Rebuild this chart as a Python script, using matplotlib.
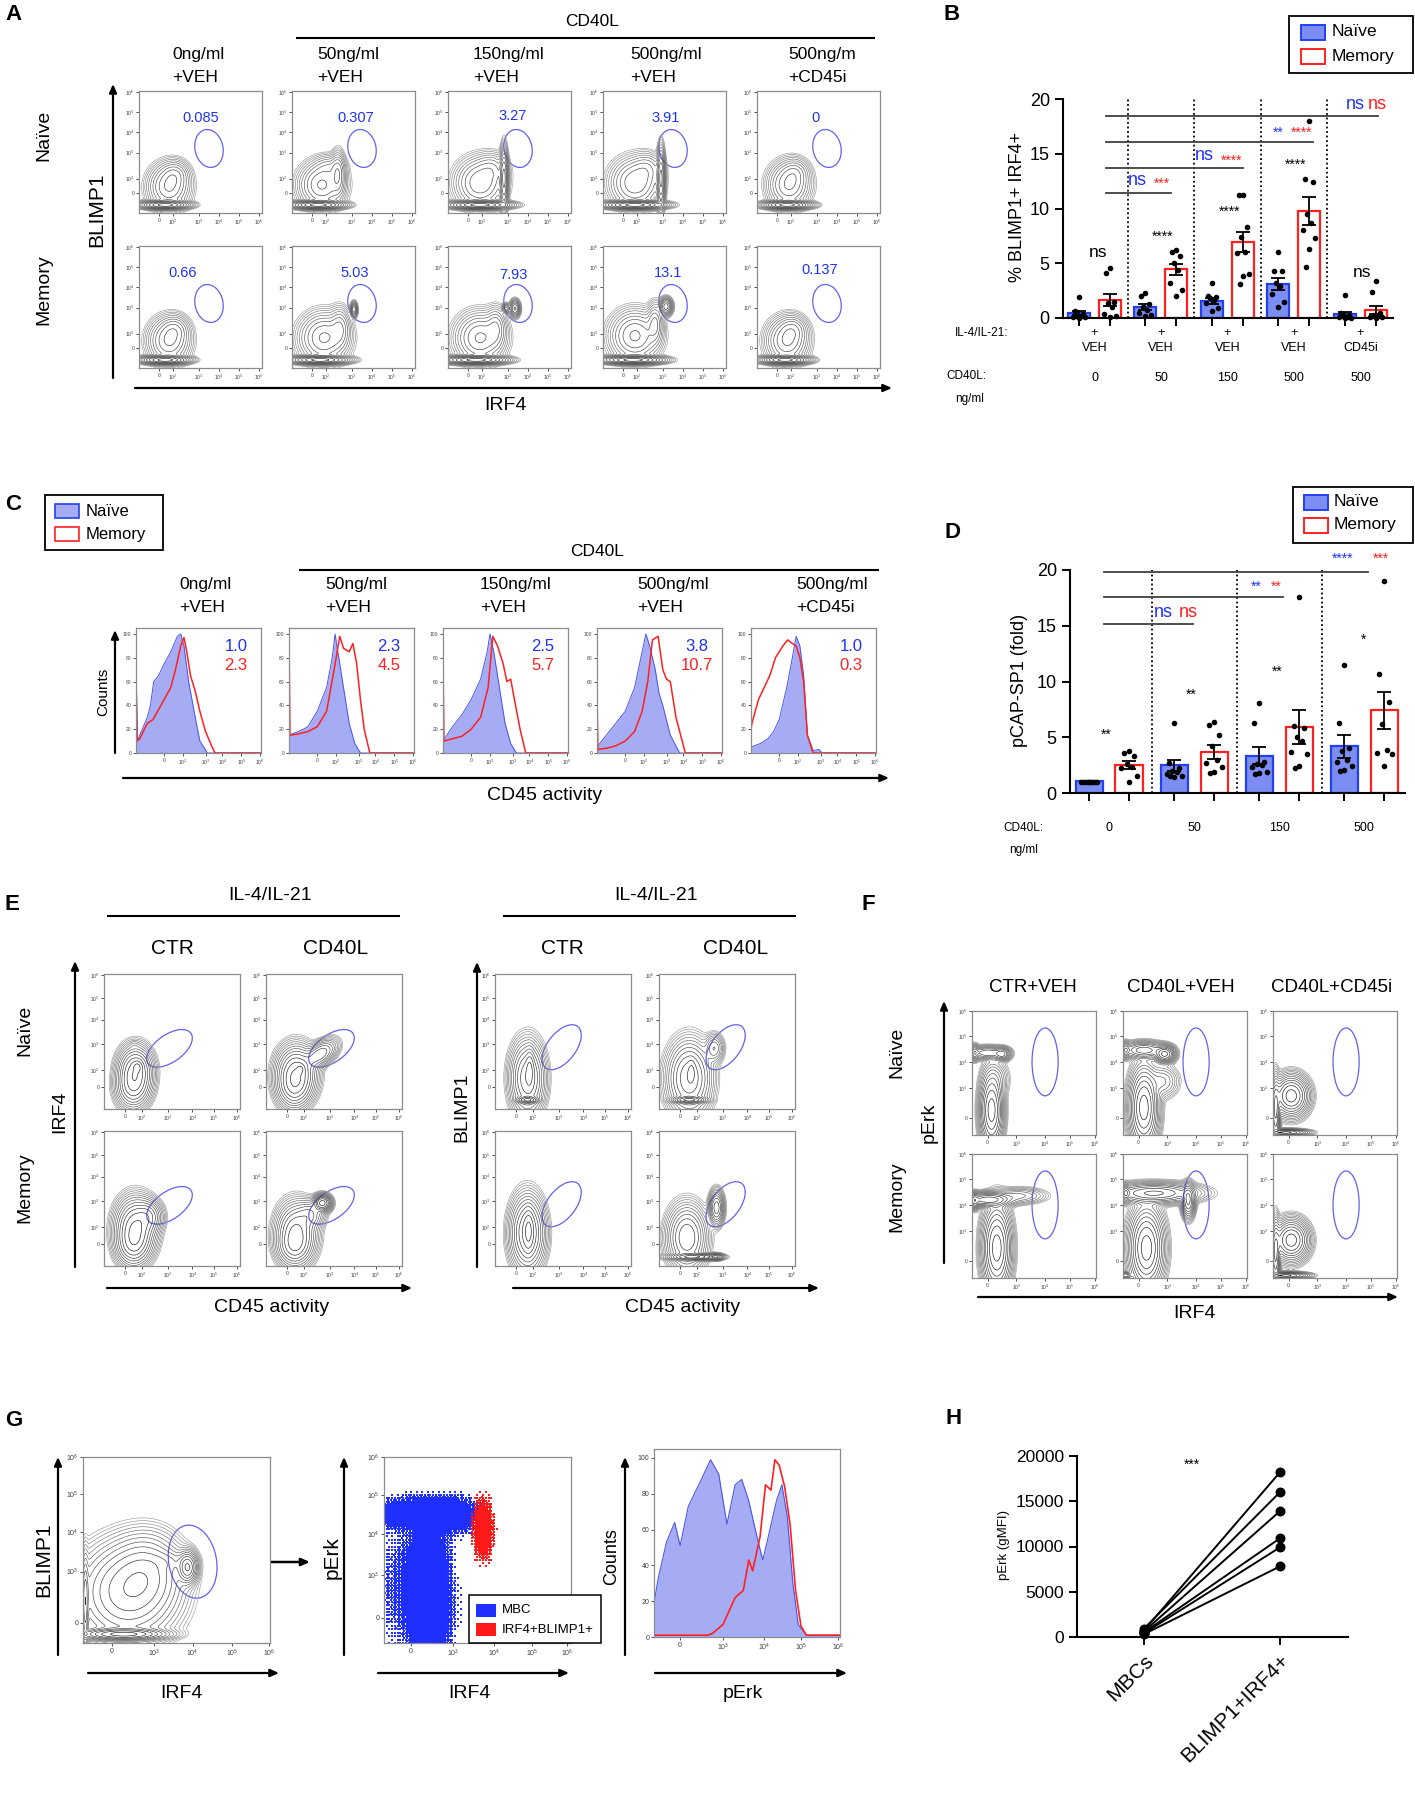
import numpy as np
import matplotlib
matplotlib.use('Agg')
import matplotlib.pyplot as plt
from matplotlib.patches import Ellipse, Rectangle

plt.rcParams['font.family'] = ['Liberation Sans', 'DejaVu Sans']
plt.rcParams['mathtext.fontset'] = 'custom'
plt.rcParams['mathtext.rm'] = 'Liberation Sans'

W, H = 1415, 1800
BLUE_TXT = '#1f33f5'
RED = '#ff2020'
NAIVE_FILL = '#7c8ef3'
NAIVE_EDGE = '#2340f0'
HIST_FILL = '#a6acf4'
HIST_EDGE = '#4a55e8'
GATE = '#6262ee'

# ---------------- DATA ----------------
# Panel A: gate frequencies (BLIMP1 vs IRF4)
A_conditions = ['0ng/ml\n+VEH', '50ng/ml\n+VEH', '150ng/ml\n+VEH', '500ng/ml\n+VEH', '500ng/m\n+CD45i']
A_naive_pct = ['0.085', '0.307', '3.27', '3.91', '0']
A_memory_pct = ['0.66', '5.03', '7.93', '13.1', '0.137']
# population blobs (centre x, centre y, spread x, spread y, weight[, corr]) in display decades
A_naive_pops = [
    [(0.3, -0.6, 0.55, 0.1, 3.0), (0.5, 0.3, 0.5, 0.55, 0.8), (0.8, 0.9, 0.35, 0.35, 0.35)],
    [(0.3, -0.6, 0.6, 0.1, 3.0), (0.5, 0.4, 0.55, 0.55, 0.8), (1.3, 0.9, 0.18, 0.55, 0.6), (0.9, 1.3, 0.4, 0.3, 0.2)],
    [(0.6, -0.6, 0.7, 0.1, 3.0), (0.6, 0.5, 0.6, 0.6, 0.7), (1.8, 0.7, 0.1, 0.75, 1.2), (1.2, 1.2, 0.4, 0.4, 0.25)],
    [(0.6, -0.6, 0.7, 0.1, 3.0), (0.6, 0.5, 0.6, 0.6, 0.7), (1.9, 0.7, 0.1, 0.75, 1.2), (1.2, 1.2, 0.4, 0.4, 0.25)],
    [(0.5, -0.6, 0.55, 0.1, 3.0), (0.6, 0.4, 0.5, 0.55, 0.8), (0.9, 1.0, 0.35, 0.35, 0.3)],
]
A_memory_pops = [
    [(0.3, -0.6, 0.55, 0.1, 3.0), (0.5, 0.35, 0.5, 0.55, 0.8), (0.8, 0.9, 0.35, 0.35, 0.35)],
    [(0.4, -0.6, 0.65, 0.1, 3.0), (0.6, 0.5, 0.6, 0.6, 0.8), (1.4, 1.0, 0.25, 0.5, 0.4), (2.1, 1.9, 0.08, 0.18, 1.0)],
    [(0.4, -0.6, 0.7, 0.1, 3.0), (0.6, 0.5, 0.6, 0.6, 0.8), (1.4, 1.0, 0.25, 0.5, 0.4), (1.9, 1.95, 0.1, 0.12, 0.6), (2.35, 1.95, 0.12, 0.2, 1.2)],
    [(0.5, -0.6, 0.7, 0.1, 3.0), (0.6, 0.6, 0.6, 0.6, 0.8), (1.6, 1.2, 0.2, 0.5, 0.5), (2.15, 2.05, 0.15, 0.2, 1.4)],
    [(0.4, -0.6, 0.55, 0.1, 3.0), (0.5, 0.35, 0.5, 0.55, 0.8), (0.8, 0.9, 0.35, 0.35, 0.35)],
]
A_naive_lblpos = [(2.1, 3.7), (2.2, 3.7), (2.25, 3.8), (2.15, 3.7), (1.9, 3.7)]
A_memory_lblpos = [(1.2, 3.7), (2.15, 3.7), (2.25, 3.6), (2.25, 3.7), (2.15, 3.85)]

# Panel B
B_conc = ['0', '50', '150', '500', '500']
B_treat = ['VEH', 'VEH', 'VEH', 'VEH', 'CD45i']
B_naive_mean = [0.45, 1.0, 1.55, 3.1, 0.37]
B_naive_sem = [0.2, 0.3, 0.25, 0.55, 0.2]
B_memory_mean = [1.64, 4.47, 6.94, 9.77, 0.73]
B_memory_sem = [0.55, 0.5, 0.9, 1.3, 0.4]
B_naive_pts = [[1.9, 0.6, 0.4, 0.3, 0.2, 0.1, 0.1, 0.0],
               [2.3, 2.0, 1.3, 1.0, 0.7, 0.5, 0.3, 0.2],
               [3.2, 2.0, 1.9, 1.8, 1.6, 1.4, 0.9, 0.6],
               [6.0, 4.3, 4.3, 3.2, 2.9, 2.2, 1.5, 1.0],
               [2.1, 0.5, 0.3, 0.2, 0.1, 0.1, 0.0, 0.0]]
B_memory_pts = [[4.6, 4.1, 1.5, 1.4, 1.0, 0.4, 0.2, 0.1],
                [6.2, 6.0, 5.7, 5.0, 4.4, 3.2, 2.6, 2.0],
                [11.2, 11.2, 8.3, 7.4, 6.0, 5.9, 4.0, 3.8, 3.1],
                [18.0, 12.7, 12.4, 9.5, 8.7, 8.0, 7.3, 6.3, 4.7],
                [3.4, 2.4, 0.5, 0.3, 0.2, 0.1, 0.1, 0.0]]
B_pair_sig = ['ns', '****', '****', '****', 'ns']
B_pair_y = [6.0, 7.4, 9.7, 14.0, 4.2]

# Panel C: CD45 activity histograms (x in display decades, y = % of max)
C_naive_lbl = ['1.0', '2.3', '2.5', '3.8', '1.0']
C_memory_lbl = ['2.3', '4.5', '5.7', '10.7', '0.3']
C_naive_x = [
    [-1.5, -1.5, -1.42, -1.3, -0.9, -0.73, -0.56, -0.3, 0.0, 0.35, 0.7, 0.88, 1.05, 1.3, 1.65, 1.9, 2.3, 5.15],
    [-1.5, -1.0, -0.5, 0.0, 0.5, 0.8, 0.95, 1.1, 1.4, 1.7, 2.0, 2.3, 5.15],
    [-1.5, -1.0, -0.5, 0.0, 0.5, 0.85, 1.0, 1.2, 1.5, 1.8, 2.1, 2.4, 5.15],
    [-1.5, -1.0, -0.5, 0.0, 0.5, 0.9, 1.1, 1.3, 1.6, 1.8, 2.0, 2.4, 2.9, 5.15],
    [-1.5, -1.0, -0.6, -0.3, 0.0, 0.4, 0.7, 0.9, 1.1, 1.3, 1.5, 1.8, 2.1, 2.3, 5.15],
]
C_naive_y = [
    [0, 72, 10, 15, 30, 40, 60, 65, 75, 85, 98, 100, 90, 60, 30, 10, 0, 0],
    [15, 18, 22, 35, 55, 80, 100, 85, 55, 25, 8, 0, 0],
    [10, 22, 32, 45, 62, 85, 100, 85, 55, 25, 8, 0, 0],
    [5, 15, 25, 35, 55, 85, 100, 90, 70, 50, 40, 15, 0, 0],
    [5, 8, 12, 18, 28, 55, 80, 98, 90, 65, 15, 2, 3, 0, 0],
]
C_memory_x = [
    [-1.5, -1.5, -1.45, -1.3, -0.9, -0.6, -0.35, 0.0, 0.35, 0.6, 0.88, 1.05, 1.2, 1.4, 1.65, 1.9, 2.2, 2.55, 2.7, 5.15],
    [-1.5, -1.5, -1.45, -1.0, -0.5, 0.0, 0.5, 0.9, 1.2, 1.4, 1.7, 1.9, 2.1, 2.3, 2.5, 2.8, 5.15],
    [-1.5, -1.5, -1.45, -1.0, -0.5, 0.0, 0.5, 0.9, 1.15, 1.4, 1.7, 1.9, 2.1, 2.3, 2.6, 2.9, 5.15],
    [-1.5, -1.5, -1.45, -1.0, -0.5, 0.0, 0.5, 0.9, 1.2, 1.45, 1.75, 2.0, 2.2, 2.4, 2.7, 3.2, 5.15],
    [-1.5, -1.5, -1.45, -1.1, -0.8, -0.5, -0.2, 0.2, 0.45, 0.7, 0.9, 1.1, 1.3, 1.5, 1.8, 5.15],
]
C_memory_y = [
    [0, 70, 10, 12, 25, 28, 35, 45, 55, 70, 90, 97, 85, 65, 52, 35, 18, 5, 0, 0],
    [0, 100, 15, 16, 18, 22, 35, 70, 98, 88, 85, 92, 75, 45, 20, 0, 0],
    [0, 80, 10, 12, 14, 20, 30, 55, 98, 90, 75, 60, 62, 45, 20, 0, 0],
    [0, 48, 3, 4, 6, 10, 18, 35, 60, 95, 98, 70, 62, 60, 30, 0, 0],
    [0, 20, 25, 45, 55, 65, 80, 90, 95, 92, 90, 80, 60, 15, 0, 0],
]

# Panel D
D_conc = ['0', '50', '150', '500']
D_naive_mean = [1.04, 2.48, 3.34, 4.18]
D_naive_sem = [0.03, 0.5, 0.78, 1.0]
D_memory_mean = [2.54, 3.7, 5.88, 7.4]
D_memory_sem = [0.35, 0.63, 1.52, 1.64]
D_naive_pts = [[1.0, 1.0, 1.0, 1.0, 1.0, 1.0, 1.0, 1.0],
               [6.3, 2.7, 2.2, 2.0, 1.9, 1.7, 1.5, 1.4, 1.5],
               [8.1, 6.3, 2.8, 2.6, 2.5, 2.3, 1.9, 1.8, 1.7],
               [11.5, 6.3, 4.0, 3.8, 3.0, 2.8, 2.4, 2.1, 2.0]]
D_memory_pts = [[3.8, 3.6, 3.3, 2.6, 2.3, 2.2, 1.5, 1.0],
                [6.4, 6.1, 5.2, 4.2, 3.0, 2.7, 2.3, 1.9, 1.8],
                [17.6, 6.0, 5.8, 5.0, 4.7, 3.7, 3.5, 2.4, 2.2],
                [19.0, 10.7, 8.2, 6.2, 3.9, 3.6, 3.5, 2.4]]
D_pair_sig = ['**', '**', '**', '*']
D_pair_y = [5.2, 8.8, 10.9, 13.7]

# Panel E
E_left_pct = ['0.978', '17.9', '5.14', '30.4']
E_right_pct = ['0.153', '8.84', '1.58', '17']
E_left_pops = [
    [(0.45, 0.7, 0.35, 0.5, 1.0), (0.35, 0.0, 0.35, 0.45, 0.6), (0.55, 0.9, 0.12, 0.15, 0.5), (0.4, 1.85, 0.12, 0.1, 0.03)],
    [(0.4, 0.6, 0.4, 0.55, 1.0), (0.3, 0.0, 0.35, 0.45, 0.5), (1.45, 1.45, 0.35, 0.3, 0.45, 0.5), (0.6, 0.8, 0.1, 0.12, 0.4)],
    [(0.45, 0.7, 0.4, 0.6, 1.0), (0.35, 0.0, 0.35, 0.45, 0.5), (1.0, 1.2, 0.3, 0.35, 0.4)],
    [(0.4, 0.5, 0.4, 0.6, 0.8), (0.3, -0.1, 0.35, 0.4, 0.4), (1.55, 1.8, 0.18, 0.17, 1.3), (1.0, 1.3, 0.3, 0.3, 0.3)],
]
E_right_pops = [
    [(0.5, 0.4, 0.35, 0.75, 1.0), (0.5, -0.55, 0.22, 0.07, 1.5), (0.6, 0.8, 0.1, 0.45, 0.5)],
    [(0.4, 0.4, 0.45, 0.75, 1.0), (0.4, -0.55, 0.35, 0.07, 1.5), (1.5, 1.7, 0.2, 0.3, 0.3), (0.5, 0.7, 0.1, 0.3, 0.4)],
    [(0.5, 0.5, 0.35, 0.75, 1.0), (0.55, 0.6, 0.12, 0.5, 0.6)],
    [(0.3, 0.3, 0.4, 0.65, 1.0), (0.6, -0.55, 0.5, 0.07, 1.6), (1.6, 1.6, 0.15, 0.35, 0.9), (1.6, -0.55, 0.15, 0.07, 0.6)],
]

# Panel F
F_conditions = ['CTR+VEH', 'CD40L+VEH', 'CD40L+CD45i']
F_naive_pct = ['0.208', '0.438', '0.0254']
F_memory_pct = ['1.14', '4.19', '0.0173']
F_naive_pops = [
    [(0.0, 2.5, 0.35, 0.12, 0.5), (0.55, 2.45, 0.15, 0.12, 0.6), (0.15, 0.3, 0.2, 0.65, 1.5), (0.3, 1.5, 0.25, 0.35, 0.12), (-0.5, 2.5, 0.08, 0.15, 0.4)],
    [(0.2, 2.6, 0.4, 0.15, 0.6), (1.0, 2.45, 0.18, 0.15, 1.2), (0.2, 0.4, 0.25, 0.7, 1.3), (0.9, 1.4, 0.3, 0.3, 0.15), (-0.5, 2.6, 0.08, 0.15, 0.4)],
    [(0.1, 0.85, 0.3, 0.35, 1.0), (-0.5, 0.3, 0.08, 0.6, 0.6), (-0.1, -0.55, 0.4, 0.06, 0.6)],
]
F_memory_pops = [
    [(0.0, 2.35, 0.45, 0.13, 0.9), (1.2, 2.5, 0.5, 0.15, 0.15), (0.35, 0.5, 0.25, 0.75, 1.3), (-0.5, 2.3, 0.08, 0.15, 0.6)],
    [(0.6, 2.6, 0.8, 0.18, 0.7), (1.9, 2.3, 0.12, 0.3, 0.7), (0.3, 0.5, 0.3, 0.7, 1.2), (-0.5, 2.6, 0.08, 0.15, 0.5), (-0.5, -0.55, 0.1, 0.06, 0.4)],
    [(0.1, 0.8, 0.3, 0.35, 1.0), (-0.5, 0.3, 0.08, 0.6, 0.6), (-0.1, -0.55, 0.4, 0.06, 0.6)],
]

# Panel G
G_gate_pct = '5.2'
G1_pops = [(0.3, -0.3, 0.5, 0.07, 2.0), (0.4, 0.8, 0.6, 0.6, 1.0), (0.9, 1.3, 0.45, 0.5, 0.6),
           (1.95, 1.45, 0.12, 0.2, 1.2), (-0.68, 0.5, 0.04, 0.6, 0.6), (1.5, 1.6, 0.3, 0.15, 0.15)]
G2_mbc_pops = [(0.2, 2.75, 0.6, 0.22, 1.0), (1.1, 2.7, 0.35, 0.25, 0.7), (0.45, 0.3, 0.3, 0.8, 1.3),
               (0.4, 1.6, 0.3, 0.45, 0.6), (-0.4, 0.8, 0.3, 0.9, 0.15)]
G2_pos_pops = [(1.85, 2.35, 0.14, 0.42, 1.0)]
G3_mbc_x = [-0.67, -0.56, -0.35, -0.14, 0.0, 0.21, 0.5, 0.78, 0.99, 1.2, 1.41, 1.58, 1.76, 1.97,
            2.12, 2.26, 2.47, 2.61, 2.75, 2.89, 3.03, 3.24, 4.1]
G3_mbc_y = [19, 33, 53, 64, 51, 73, 86, 99, 91, 63, 85, 88, 76, 56, 43, 56, 76, 85, 67, 30, 7, 1, 1]
G3_pos_x = [-0.67, 0.7, 0.83, 1.1, 1.41, 1.62, 1.76, 1.86, 2.05, 2.19, 2.33, 2.43, 2.54, 2.68,
            2.82, 2.96, 3.1, 3.24, 4.1]
G3_pos_y = [1, 1, 2, 7, 22, 26, 43, 37, 56, 85, 82, 99, 96, 84, 63, 26, 6, 1, 1]

# Panel H
H_groups = ['MBCs', 'BLIMP1+IRF4+']
H_mbc = [700, 900, 600, 500, 400, 300]
H_pos = [18200, 16000, 13900, 10900, 9900, 7800]

# ---------------- FIGURE ----------------
fig = plt.figure(figsize=(W / 100, H / 100), dpi=100)
ov = fig.add_axes([0, 0, 1, 1])
ov.set_xlim(0, W)
ov.set_ylim(H, 0)
ov.axis('off')


def ax_px(x0, y0, x1, y1):
    return fig.add_axes([x0 / W, 1 - y1 / H, (x1 - x0) / W, (y1 - y0) / H])


def txt(x, y, s, size=12, **kw):
    kw.setdefault('ha', 'center')
    kw.setdefault('va', 'center')
    ov.text(x, y, s, fontsize=size, **kw)


def arrow(x0, y0, x1, y1, lw=1.6):
    ov.annotate('', xy=(x1, y1), xytext=(x0, y0),
                arrowprops=dict(arrowstyle='-|>,head_length=0.5,head_width=0.22', lw=lw,
                                color='k', shrinkA=0, shrinkB=0))


def line(x0, y0, x1, y1, lw=1.6):
    ov.plot([x0, x1], [y0, y1], color='k', lw=lw, solid_capstyle='butt')


def density(pops, xl, yl, n=240):
    gx = np.linspace(xl[0], xl[1], n)
    gy = np.linspace(yl[0], yl[1], n)
    X, Y = np.meshgrid(gx, gy)
    Z = np.zeros_like(X)
    for p in pops:
        cx, cy, sx, sy, w = p[:5]
        rho = p[5] if len(p) > 5 else 0.0
        dx = (X - cx) / sx
        dy = (Y - cy) / sy
        Z += w * np.exp(-(dx * dx - 2 * rho * dx * dy + dy * dy) / (2 * (1 - rho * rho)))
    return X, Y, Z


def style_flow(ax, xl, yl, xt, yt, xlab, ylab, fs=3.6):
    ax.set_xlim(xl)
    ax.set_ylim(yl)
    ax.set_xticks(xt)
    ax.set_xticklabels(xlab, fontsize=fs)
    ax.set_yticks(yt)
    ax.set_yticklabels(ylab, fontsize=fs)
    ax.tick_params(length=2, width=0.6, pad=1.5, color='0.2', labelcolor='0.25')
    for s in ax.spines.values():
        s.set_color('0.55')
        s.set_linewidth(0.9)


def flow_plot(rect, pops, xl, yl, xt, yt, xlab, ylab, gate=None, fs=3.6):
    ax = ax_px(*rect)
    X, Y, Z = density(pops, xl, yl)
    nl = 13
    lv = Z.max() * np.geomspace(0.006, 0.8, nl)
    cols = [str(c) for c in np.linspace(0.62, 0.08, nl)]
    ax.contour(X, Y, Z, levels=lv, colors=cols, linewidths=0.45)
    style_flow(ax, xl, yl, xt, yt, xlab, ylab, fs)
    if gate is not None:
        gx, gy, gw, gh, ga = gate
        ax.add_patch(Ellipse((gx, gy), gw, gh, angle=ga, fill=False, ec=GATE, lw=0.9))
    return ax


BAYER = np.array([[0, 8, 2, 10], [12, 4, 14, 6], [3, 11, 1, 9], [15, 7, 13, 5]]) / 16.0


def dot_cloud(ax, pops, xl, yl, lo, hi, color, nx=95, ny=95, size=1.6):
    gx = np.linspace(xl[0], xl[1], nx)
    gy = np.linspace(yl[0], yl[1], ny)
    X, Y = np.meshgrid(gx, gy)
    _, _, Z = density(pops, xl, yl, n=2)
    Z = np.zeros_like(X)
    for p in pops:
        cx, cy, sx, sy, w = p[:5]
        Z += w * np.exp(-(((X - cx) / sx) ** 2 + ((Y - cy) / sy) ** 2) / 2)
    Zn = Z / Z.max()
    ii, jj = np.indices(X.shape)
    thr = lo + (hi - lo) * BAYER[ii % 4, jj % 4]
    m = Zn > thr
    ax.scatter(X[m], Y[m], s=size, marker='s', c=color, linewidths=0)


LOG6 = ['0', '$10^2$', '$10^3$', '$10^4$', '$10^5$', '$10^6$']
LOG5 = ['0', '$10^3$', '$10^4$', '$10^5$', '$10^6$']

# ---- panel letters ----
for L, x, y in [('A', 14, 15), ('B', 952, 14), ('C', 13, 505), ('D', 952, 533),
                ('E', 12, 905), ('F', 868, 905), ('G', 14, 1420), ('H', 954, 1419)]:
    txt(x, y, L, 16, fontweight='bold')

# ================= Panel A =================
A_x0 = [139, 292, 448, 603, 757]
A_title_x = [172, 317, 473, 630, 788]
A_tick = [0, 0.7, 2.0, 3.0, 4.0, 5.0]
A_xl, A_yl = (-1.0, 5.15), (-1.0, 5.05)
A_gate = (2.5, 2.2, 1.4, 1.9, 12)
txt(592, 22, 'CD40L', 12.5)
line(296, 38, 875, 38, 1.5)
for i in range(5):
    t1, t2 = A_conditions[i].split('\n')
    txt(A_title_x[i], 54, t1, 12.5, ha='left')
    txt(A_title_x[i], 77, t2, 12.5, ha='left')
    for row, (y0, pops, pct, lp) in enumerate([(91, A_naive_pops[i], A_naive_pct[i], A_naive_lblpos[i]),
                                               (246, A_memory_pops[i], A_memory_pct[i], A_memory_lblpos[i])]):
        ax = flow_plot((A_x0[i], y0, A_x0[i] + 123, y0 + 122), pops, A_xl, A_yl,
                       A_tick, A_tick, LOG6, LOG6, gate=A_gate)
        ax.text(lp[0], lp[1], pct, color=BLUE_TXT, fontsize=10.5, ha='center', va='center')
arrow(113, 378, 113, 84)
arrow(135, 388, 892, 388)
txt(97, 210, 'BLIMP1', 15, rotation=90)
txt(44, 135, 'Naïve', 14, rotation=90)
txt(44, 290, 'Memory', 14, rotation=90)
txt(505, 406, 'IRF4', 14)

# ================= Panel B =================
axB = ax_px(1063, 99, 1393, 318)
g = np.arange(5)
off, bw = 0.233, 0.33
axB.bar(g - off, B_naive_mean, width=bw, color=NAIVE_FILL, edgecolor=NAIVE_EDGE, lw=1.6, zorder=2)
axB.bar(g + off, B_memory_mean, width=bw, color='white', edgecolor=RED, lw=1.6, zorder=2)
axB.errorbar(g - off, B_naive_mean, yerr=B_naive_sem, fmt='none', ecolor='k', capsize=5, lw=1.3, capthick=1.3, zorder=4)
axB.errorbar(g + off, B_memory_mean, yerr=B_memory_sem, fmt='none', ecolor='k', capsize=5, lw=1.3, capthick=1.3, zorder=4)
jit = [0, -0.06, 0.06, -0.03, 0.03, -0.09, 0.09, 0.0, -0.05]
for i in range(5):
    for pts, sgn in [(B_naive_pts[i], -1), (B_memory_pts[i], 1)]:
        xs = [i + sgn * off + jit[k % len(jit)] for k in range(len(pts))]
        axB.scatter(xs, pts, s=9, c='k', zorder=5, clip_on=False)
axB.vlines([0.5, 1.5, 2.5, 3.5], 0, 20, colors='k', linestyles=(0, (1, 1.5)), lw=1.3)
axB.set_xlim(-0.47, 4.49)
axB.set_ylim(0, 20)
axB.set_yticks([0, 5, 10, 15, 20])
axB.tick_params(axis='y', labelsize=13, length=6, width=1.4)
axB.set_xticks(np.concatenate([g - off, g + off]))
axB.set_xticklabels([])
axB.tick_params(axis='x', length=6, width=1.4)
for s in ['top', 'right']:
    axB.spines[s].set_visible(False)
for s in ['left', 'bottom']:
    axB.spines[s].set_linewidth(1.5)
for yv, xe in [(11.4, 1.15), (13.7, 2.23), (16.1, 3.29), (18.45, 4.26)]:
    axB.plot([0.17, xe], [yv, yv], color='0.25', lw=1.3)
for i in range(5):
    axB.text(i + (0.05 if i == 0 else 0.03), B_pair_y[i], B_pair_sig[i], ha='center', va='center',
             fontsize=12.5 if B_pair_sig[i] == 'ns' else 10)
axB.text(0.65, 12.6, 'ns', color=BLUE_TXT, fontsize=13, ha='center', va='center')
axB.text(1.02, 12.3, '***', color=RED, fontsize=10, ha='center', va='center')
axB.text(1.65, 14.8, 'ns', color=BLUE_TXT, fontsize=13, ha='center', va='center')
axB.text(2.07, 14.4, '****', color=RED, fontsize=10, ha='center', va='center')
axB.text(2.76, 16.9, '**', color=BLUE_TXT, fontsize=10, ha='center', va='center')
axB.text(3.12, 16.9, '****', color=RED, fontsize=10, ha='center', va='center')
axB.text(3.92, 19.5, 'ns', color=BLUE_TXT, fontsize=13, ha='center', va='center', clip_on=False)
axB.text(4.26, 19.5, 'ns', color=RED, fontsize=13, ha='center', va='center', clip_on=False)
txt(1017, 207, '% BLIMP1+ IRF4+', 13, rotation=90)
txt(1008, 333, 'IL-4/IL-21:', 8.5, ha='right')
txt(986, 376, 'CD40L:', 8.5, ha='right')
txt(970, 399, 'ng/ml', 8.5)
for i in range(5):
    xc = 1094.5 + 66.5 * i
    txt(xc, 333, '+', 9)
    txt(xc, 348, B_treat[i], 9)
    txt(xc, 378, B_conc[i], 9)
ov.add_patch(Rectangle((1289, 16), 124, 57, fill=False, ec='k', lw=1.3))
ov.add_patch(Rectangle((1301, 25), 24, 15, fc=NAIVE_FILL, ec=NAIVE_EDGE, lw=1.4))
ov.add_patch(Rectangle((1301, 49), 24, 15, fc='white', ec=RED, lw=1.4))
txt(1332, 32, 'Naïve', 12.5, ha='left')
txt(1332, 56, 'Memory', 12.5, ha='left')

# ================= Panel C =================
ov.add_patch(Rectangle((45, 495), 118, 55, fill=False, ec='k', lw=1.3))
ov.add_patch(Rectangle((55, 504), 24, 14, fc=HIST_FILL, ec=NAIVE_EDGE, lw=1.2))
ov.add_patch(Rectangle((55, 527), 24, 14, fc='white', ec=RED, lw=1.2))
txt(86, 511, 'Naïve', 12, ha='left')
txt(86, 534, 'Memory', 12, ha='left')
txt(597, 552, 'CD40L', 12.5)
line(299, 570, 879, 570, 1.5)
C_x0 = [136, 289, 443, 597, 751]
C_title_x = [179, 325, 480, 637, 796]
C_xt = [0, 1.0, 2.2, 3.1, 4.1, 5.1]
for i in range(5):
    t1, t2 = A_conditions[i].split('\n')
    if i == 4:
        t1 = '500ng/ml'
    txt(C_title_x[i], 585, t1, 12.5, ha='left')
    txt(C_title_x[i], 608, t2, 12.5, ha='left')
    ax = ax_px(C_x0[i], 628, C_x0[i] + 125, 753)
    ax.fill_between(C_naive_x[i], C_naive_y[i], color=HIST_FILL, lw=0)
    ax.plot(C_naive_x[i], C_naive_y[i], color=HIST_EDGE, lw=0.7)
    ax.plot(C_memory_x[i], C_memory_y[i], color=RED, lw=1.1)
    style_flow(ax, (-1.5, 5.15), (0, 105), C_xt, [0, 20, 40, 60, 80, 100], LOG6,
               ['0', '20', '40', '60', '80', '100'])
    ax.text(0.8, 0.855, C_naive_lbl[i], transform=ax.transAxes, color=BLUE_TXT, fontsize=12, ha='center', va='center')
    ax.text(0.8, 0.70, C_memory_lbl[i], transform=ax.transAxes, color=RED, fontsize=12, ha='center', va='center')
arrow(115, 753, 115, 630)
arrow(123, 778, 889, 778)
txt(103, 692, 'Counts', 11, rotation=90)
txt(545, 795, 'CD45 activity', 14)

# ================= Panel D =================
axD = ax_px(1070, 570, 1405, 793)
g4 = np.arange(4)
offD, bwD = 0.235, 0.32
axD.bar(g4 - offD, D_naive_mean, width=bwD, color=NAIVE_FILL, edgecolor=NAIVE_EDGE, lw=1.6, zorder=2)
axD.bar(g4 + offD, D_memory_mean, width=bwD, color='white', edgecolor=RED, lw=1.6, zorder=2)
axD.errorbar(g4 - offD, D_naive_mean, yerr=D_naive_sem, fmt='none', ecolor='k', capsize=5, lw=1.3, capthick=1.3, zorder=4)
axD.errorbar(g4 + offD, D_memory_mean, yerr=D_memory_sem, fmt='none', ecolor='k', capsize=5, lw=1.3, capthick=1.3, zorder=4)
for i in range(4):
    for pts, sgn in [(D_naive_pts[i], -1), (D_memory_pts[i], 1)]:
        xs = [i + sgn * offD + jit[k % len(jit)] for k in range(len(pts))]
        axD.scatter(xs, pts, s=9, c='k', zorder=5, clip_on=False)
axD.vlines([0.5, 1.5, 2.5], 0, 20, colors='k', linestyles=(0, (1, 1.5)), lw=1.3)
axD.set_xlim(-0.46, 3.48)
axD.set_ylim(0, 20)
axD.set_yticks([0, 5, 10, 15, 20])
axD.tick_params(axis='y', labelsize=13, length=6, width=1.4)
axD.set_xticks(np.concatenate([g4 - offD, g4 + offD]))
axD.set_xticklabels([])
axD.tick_params(axis='x', length=6, width=1.4)
for s in ['top', 'right']:
    axD.spines[s].set_visible(False)
for s in ['left', 'bottom']:
    axD.spines[s].set_linewidth(1.5)
for yv, xe in [(15.2, 0.99), (17.55, 2.05), (19.8, 3.05)]:
    axD.plot([-0.06, xe], [yv, yv], color='0.25', lw=1.3)
D_pair_x = [-0.04, 0.96, 1.98, 2.99]
for i in range(4):
    axD.text(D_pair_x[i], D_pair_y[i], D_pair_sig[i], ha='center', va='center', fontsize=10)
axD.text(0.64, 16.2, 'ns', color=BLUE_TXT, fontsize=13, ha='center', va='center')
axD.text(0.93, 16.2, 'ns', color=RED, fontsize=13, ha='center', va='center')
axD.text(1.73, 18.5, '**', color=BLUE_TXT, fontsize=10, ha='center', va='center')
axD.text(1.96, 18.5, '**', color=RED, fontsize=10, ha='center', va='center')
axD.text(2.75, 21.0, '****', color=BLUE_TXT, fontsize=10, ha='center', va='center', clip_on=False)
axD.text(3.2, 21.0, '***', color=RED, fontsize=10, ha='center', va='center', clip_on=False)
txt(1020, 680, 'pCAP-SP1 (fold)', 13, rotation=90)
txt(1043, 828, 'CD40L:', 8.5, ha='right')
txt(1024, 850, 'ng/ml', 8.5)
for i in range(4):
    txt(1109 + 85 * i, 828, D_conc[i], 9)
ov.add_patch(Rectangle((1293, 487), 120, 56, fill=False, ec='k', lw=1.3))
ov.add_patch(Rectangle((1304, 495), 24, 15, fc=NAIVE_FILL, ec=NAIVE_EDGE, lw=1.4))
ov.add_patch(Rectangle((1304, 518), 24, 15, fc='white', ec=RED, lw=1.4))
txt(1334, 502, 'Naïve', 12.5, ha='left')
txt(1334, 525, 'Memory', 12.5, ha='left')

# ================= Panel E =================
E_tick = [0, 0.74, 1.87, 2.96, 3.9, 4.9]
E_xl, E_yl = (-0.93, 5.05), (-0.95, 4.95)
E_gate_L = (1.95, 1.7, 2.3, 1.2, 35)
E_gate_R = (2.0, 1.75, 2.3, 1.25, 52)
E_rows = [974, 1131]
for grp, (x0s, pops, pcts, gate, pct_xy) in enumerate([
        ([104, 266], E_left_pops, E_left_pct, E_gate_L, [(213, 1021), (377, 1014), (217, 1175), (374, 1175)]),
        ([495, 659], E_right_pops, E_right_pct, E_gate_R, [(604, 1007), (769, 1010), (608, 1165), (767, 1165)])]):
    for r in range(2):
        for c in range(2):
            k = r * 2 + c
            flow_plot((x0s[c], E_rows[r], x0s[c] + 136, E_rows[r] + 135), pops[k], E_xl, E_yl,
                      E_tick, E_tick, LOG6, LOG6, gate=gate)
            txt(pct_xy[k][0], pct_xy[k][1], pcts[k], 13, color=BLUE_TXT)
for cx, lx0, lx1 in [(270, 107, 400), (656, 503, 796)]:
    txt(cx, 895, 'IL-4/IL-21', 14)
    line(lx0, 916, lx1, 916, 1.5)
txt(172, 948, 'CTR', 15)
txt(336, 948, 'CD40L', 15)
txt(562, 948, 'CTR', 15)
txt(736, 948, 'CD40L', 15)
txt(25, 1030, 'Naïve', 14, rotation=90)
txt(25, 1188, 'Memory', 14, rotation=90)
txt(60, 1112, 'IRF4', 14, rotation=90)
arrow(75, 1267, 75, 961)
txt(462, 1107, 'BLIMP1', 14, rotation=90)
arrow(477, 1267, 477, 962)
arrow(107, 1288, 412, 1288)
arrow(513, 1288, 819, 1288)
txt(272, 1308, 'CD45 activity', 14)
txt(683, 1308, 'CD45 activity', 14)

# ================= Panel F =================
F_x0 = [972, 1123, 1273]
F_rows = [1011, 1154]
F_xt = [0, 1.1, 2.2, 3.15, 4.1]
F_yt = [0, 1.15, 2.15, 3.15, 4.1]
F_xl, F_yl = (-0.6, 4.15), (-0.65, 4.1)
F_gate = (2.2, 2.15, 1.0, 2.6, 0)
F_title_x = [1033, 1181, 1332]
F_pct_xy = [[(1072, 1023), (1223, 1025), (1369, 1023)], [(1076, 1173), (1227, 1168), (1369, 1166)]]
for c in range(3):
    txt(F_title_x[c], 987, F_conditions[c], 13.5)
    for r, (pops, pcts) in enumerate([(F_naive_pops, F_naive_pct), (F_memory_pops, F_memory_pct)]):
        flow_plot((F_x0[c], F_rows[r], F_x0[c] + 124, F_rows[r] + 124), pops[c], F_xl, F_yl,
                  F_xt, F_yt, LOG5, LOG5, gate=F_gate)
        txt(F_pct_xy[r][c][0], F_pct_xy[r][c][1], pcts[c], 12, color=BLUE_TXT)
txt(897, 1052, 'Naïve', 14, rotation=90)
txt(897, 1197, 'Memory', 14, rotation=90)
txt(929, 1123, 'pErk', 14, rotation=90)
arrow(944, 1263, 944, 1001)
arrow(978, 1297, 1398, 1297)
txt(1194, 1313, 'IRF4', 14)

# ================= Panel G =================
G_xt = [0, 1.08, 2.08, 3.1, 4.05]
G1_yt = [0, 1.34, 2.37, 3.37, 4.34]
G_xl = (-0.74, 4.07)
axG1 = flow_plot((83, 1457, 270, 1643), G1_pops, G_xl, (-0.53, 4.34), G_xt, G1_yt, LOG5, LOG5,
                 gate=(2.08, 1.6, 1.23, 1.93, 10), fs=5)
txt(189, 1514, G_gate_pct, 12, color=BLUE_TXT)
arrow(222, 1562, 310, 1562, 1.8)
txt(44, 1560, 'BLIMP1', 15, rotation=90)
arrow(58, 1655, 58, 1457)
arrow(88, 1673, 279, 1673)
txt(181, 1693, 'IRF4', 14)

axG2 = ax_px(384, 1457, 571, 1643)
G2_xl, G2_yl = (-0.69, 4.1), (-0.66, 4.24)
dot_cloud(axG2, G2_mbc_pops, (-0.69, 2.6), (-0.66, 3.6), 0.02, 0.22, '#1f2fff')
dot_cloud(axG2, G2_pos_pops, (1.2, 2.6), (0.4, 3.6), 0.04, 0.35, '#ff1a1a', nx=40, ny=80)
style_flow(axG2, G2_xl, G2_yl, [0, 1.08, 2.13, 3.1, 4.0], [0, 1.13, 2.21, 3.24, 4.24], LOG5, LOG5, fs=5)
txt(332, 1558, 'pErk', 15, rotation=90)
arrow(344, 1655, 344, 1457)
arrow(378, 1673, 569, 1673)
txt(469, 1693, 'IRF4', 14)

axG3 = ax_px(654, 1449, 840, 1637)
axG3.fill_between(G3_mbc_x, G3_mbc_y, color=HIST_FILL, lw=0)
axG3.plot(G3_mbc_x, G3_mbc_y, color=HIST_EDGE, lw=0.8)
axG3.plot(G3_pos_x, G3_pos_y, color=RED, lw=1.2)
style_flow(axG3, (-0.67, 4.1), (0, 105), [0, 1.1, 2.15, 3.1, 4.05], [0, 20, 40, 60, 80, 100], LOG5,
           ['0', '20', '40', '60', '80', '100'], fs=5)
txt(612, 1557, 'Counts', 13, rotation=90)
arrow(625, 1655, 625, 1457)
arrow(655, 1673, 847, 1673)
txt(743, 1693, 'pErk', 14)

# ================= Panel H =================
axH = ax_px(1077, 1456, 1348, 1637)
for a, b in zip(H_mbc, H_pos):
    axH.plot([0, 1], [a, b], color='k', lw=1.4, zorder=2)
axH.scatter([0] * len(H_mbc), H_mbc, s=38, c='k', zorder=3, clip_on=False)
axH.scatter([1] * len(H_pos), H_pos, s=38, c='k', zorder=3, clip_on=False)
axH.set_xlim(-0.49, 1.5)
axH.set_ylim(0, 20000)
axH.set_yticks([0, 5000, 10000, 15000, 20000])
axH.set_xticks([0, 1])
axH.set_xticklabels(H_groups, rotation=45, ha='right', va='top', rotation_mode='anchor', fontsize=15)
axH.tick_params(axis='y', labelsize=12.5, length=6, width=1.4)
axH.tick_params(axis='x', length=6, width=1.4, pad=4)
for s in ['top', 'right']:
    axH.spines[s].set_visible(False)
for s in ['left', 'bottom']:
    axH.spines[s].set_linewidth(1.5)
axH.text(0.35, 19000, '***', ha='center', va='center', fontsize=10)
txt(1004, 1545, 'pErk (gMFI)', 9.5, rotation=90)

# ---- top overlay for the G legend ----
top = fig.add_axes([0, 0, 1, 1])
top.set_xlim(0, W)
top.set_ylim(H, 0)
top.axis('off')
top.add_patch(Rectangle((469, 1595), 132, 48, fc='white', ec='k', lw=1.1))
top.add_patch(Rectangle((476, 1604), 20, 13, fc='#1f2fff', ec='none'))
top.add_patch(Rectangle((476, 1623), 20, 13, fc='#ff1a1a', ec='none'))
top.text(502, 1610, 'MBC', fontsize=9.5, ha='left', va='center')
top.text(502, 1630, 'IRF4+BLIMP1+', fontsize=9.5, ha='left', va='center')

fig.savefig('out.png', dpi=100)
